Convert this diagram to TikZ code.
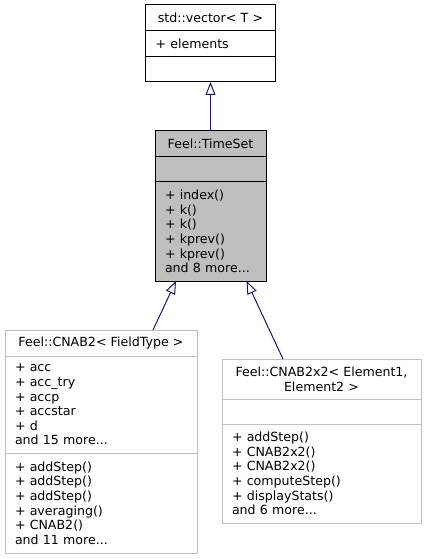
\documentclass[tikz,border=0pt]{standalone}
\usepackage{fontspec}
\setmainfont{DejaVu Sans}
\usetikzlibrary{arrows.meta,positioning,calc}
\definecolor{edgeblue}{HTML}{191970}
\definecolor{boxgrey}{HTML}{BFBFBF}
\tikzset{every picture/.style={line width=0.75pt}}
\tikzset{
  umlfont/.style={font=\fontsize{9.45pt}{10.95pt}\selectfont},
  titlepart/.style={draw, umlfont, align=center, inner xsep=7.5pt, inner ysep=0pt, outer sep=0pt, fill=white},
  listpart/.style={draw, umlfont, align=left, inner xsep=7.5pt, inner ysep=0pt, outer sep=0pt, fill=white},
  isa/.style={draw=edgeblue, -{Triangle[open,length=9.75pt,width=7.5pt]}},
}

\begin{document}
\begin{tikzpicture}[x=0.75pt,y=-0.75pt]
    \useasboundingbox (0,0) rectangle (426,559);

    % Base class std::vector
    \node[titlepart, anchor=north west, text width=82.5pt, minimum height=19.5pt] (vec) at (145.5,5) {std::vector< T >};
    \node[listpart, text width=82.5pt, minimum height=19.5pt, below=0pt of vec] (vecattr) {+ elements};
    \node[listpart, text width=82.5pt, minimum height=18.75pt, below=0pt of vecattr] (vecops) {};

    % Feel::TimeSet (the class itself, filled grey)
    \node[titlepart, fill=boxgrey, anchor=north west, text width=68.25pt, minimum height=19.5pt] (tset) at (155,131) {Feel::TimeSet};
    \node[listpart, fill=boxgrey, text width=68.25pt, minimum height=18.75pt, below=0pt of tset] (tsetattr) {};
    \node[listpart, fill=boxgrey, text width=68.25pt, minimum height=74.25pt, below=0pt of tsetattr] (tsetops)
        {+ index()\\+ k()\\+ k()\\+ kprev()\\+ kprev()\\and 8 more...};

    % Derived class CNAB2
    \node[titlepart, draw=boxgrey, anchor=north west, text width=129pt, minimum height=19.5pt] (cnab) at (5,330) {Feel::CNAB2< FieldType >};
    \node[listpart, draw=boxgrey, text width=129pt, minimum height=72.75pt, below=0pt of cnab] (cnabattr)
        {+ acc\\+ acc\_try\\+ accp\\+ accstar\\+ d\\and 15 more...};
    \node[listpart, draw=boxgrey, text width=129pt, minimum height=75pt, below=0pt of cnabattr] (cnabops)
        {+ addStep()\\+ addStep()\\+ addStep()\\+ averaging()\\+ CNAB2()\\and 11 more...};

    % Derived class CNAB2x2
    \node[titlepart, draw=boxgrey, anchor=north west, text width=134.25pt, minimum height=30pt] (cnabxx) at (222,359)
        {Feel::CNAB2x2< Element1,\\Element2 >};
    \node[listpart, draw=boxgrey, text width=134.25pt, minimum height=18.75pt, below=0pt of cnabxx] (cnabxxattr) {};
    \node[listpart, draw=boxgrey, text width=134.25pt, minimum height=74.25pt, below=0pt of cnabxxattr] (cnabxxops)
        {+ addStep()\\+ CNAB2x2()\\+ CNAB2x2()\\+ computeStep()\\+ displayStats()\\and 6 more...};

    % Inheritance arrows
    \draw[isa] (tset.north) -- (vecops.south);
    \draw[isa] ($(cnab.north)+(52,0)$) -- ($(tsetops.south)+(-34.5,0)$);
    \draw[isa] ($(cnabxx.north)+(-38.5,0)$) -- ($(tsetops.south)+(36,0)$);
\end{tikzpicture}
\end{document}
